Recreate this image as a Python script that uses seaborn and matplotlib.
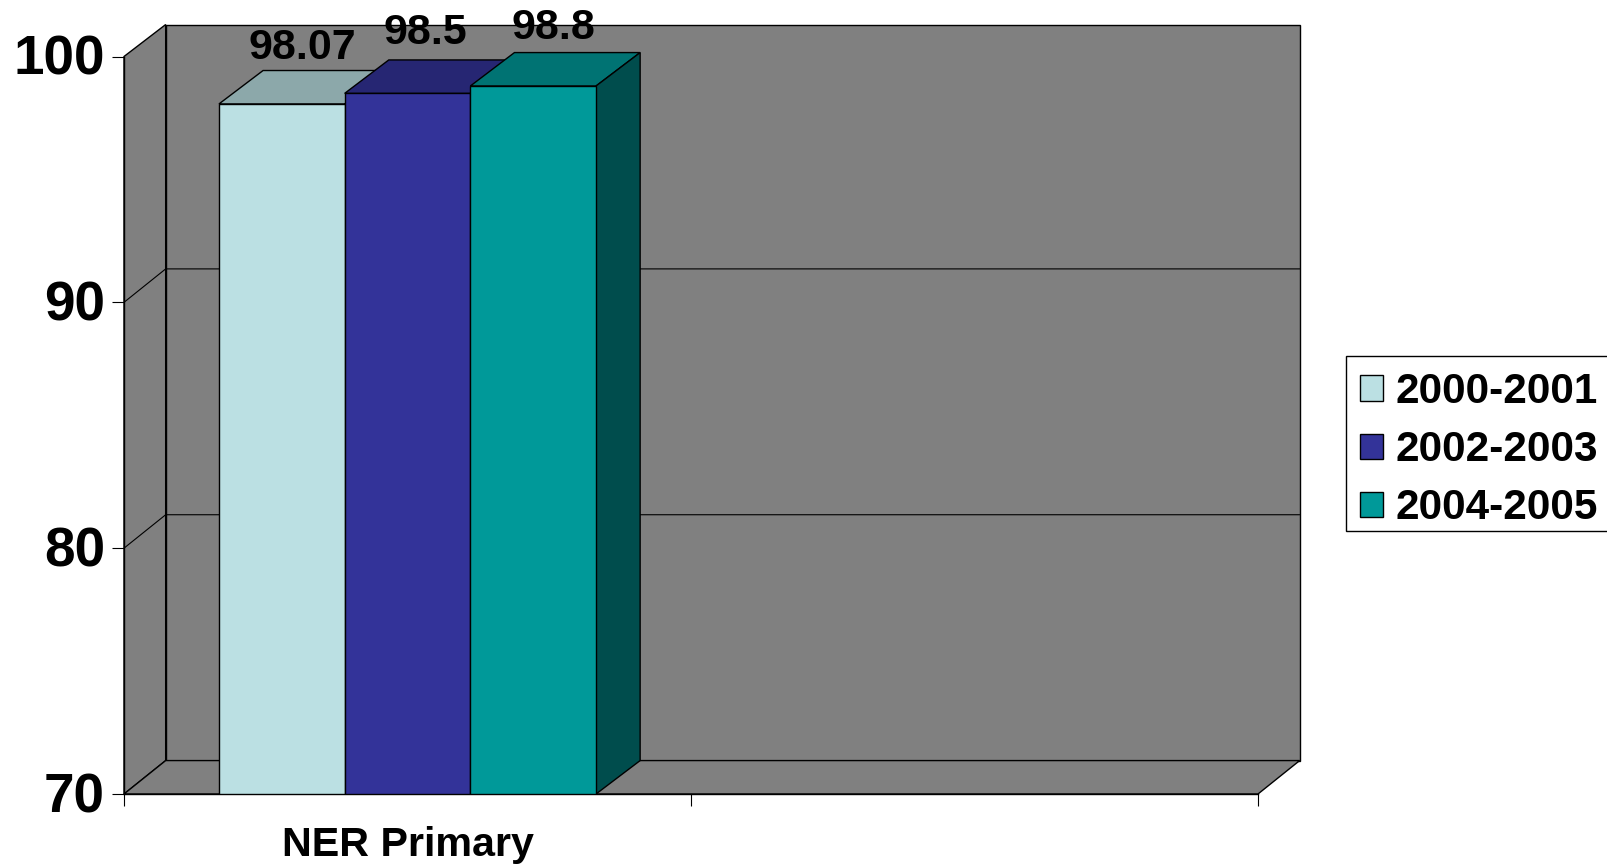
import matplotlib
matplotlib.use("Agg")
import matplotlib.pyplot as plt
import pandas as pd
import seaborn as sns
from matplotlib.patches import Polygon, Rectangle
from matplotlib.transforms import ScaledTranslation

categories = ["NER Primary", " "]
periods = ["2000-2001", "2002-2003", "2004-2005"]
values = [98.07, 98.5, 98.8]
y_ticks = [70, 80, 90, 100]

front_colors = ["#BBE0E3", "#333399", "#009999"]
top_colors = ["#8CA8AA", "#262673", "#007373"]
side_colors = ["#587072", "#1A1A4D", "#004D4D"]
wall_color = "#808080"

# Label offsets from each bar's top centre, in points
label_offsets = [(14.6, 40.5), (13.0, 43.5), (14.4, 41.5)]

# Oblique depth of the pseudo-3D box and of the bars, in data units
DEPTH_X = 0.0735
DEPTH_Y = 1.36
DEPTH_TOP = 1.30
BAR_DEPTH_X = 0.0778
Y_MIN, Y_MAX = 70, 100

sns.set_style("white")
plt.rcParams["font.family"] = ["Liberation Sans", "DejaVu Sans"]
plt.rcParams["font.weight"] = "bold"

W, H = 1607, 867
fig = plt.figure(figsize=(W / 100, H / 100), dpi=100)
ax = fig.add_axes([124 / W, 1 - 794 / H, (1258 - 124) / W, (794 - 56.5) / H])

df = pd.DataFrame({"category": categories[0], "period": periods, "value": values})
sns.barplot(
    data=df, x="category", y="value", hue="period", order=categories,
    hue_order=periods, palette=front_colors, saturation=1, width=0.665,
    edgecolor="black", linewidth=1, ax=ax,
)
bars = [p for p in ax.patches if p.get_height() > 0]
ax.set_xlim(-0.5, 1.5)
ax.set_ylim(Y_MIN, Y_MAX)
ax.patch.set_visible(False)
ax.set_xlabel("")
ax.set_ylabel("")

x0, x1 = -0.5, 1.5


def face(points, color, z):
    ax.add_patch(Polygon(points, closed=True, facecolor=color, edgecolor="black",
                         linewidth=1, zorder=z, clip_on=False, joinstyle="miter"))


# Back wall, left wall and floor of the box
face([(x0 + DEPTH_X, Y_MIN + DEPTH_Y), (x1 + DEPTH_X, Y_MIN + DEPTH_Y),
      (x1 + DEPTH_X, Y_MAX + DEPTH_TOP), (x0 + DEPTH_X, Y_MAX + DEPTH_TOP)], wall_color, 0.5)
face([(x0, Y_MIN), (x0 + DEPTH_X, Y_MIN + DEPTH_Y),
      (x0 + DEPTH_X, Y_MAX + DEPTH_TOP), (x0, Y_MAX)], wall_color, 0.6)
face([(x0, Y_MIN), (x1, Y_MIN), (x1 + DEPTH_X, Y_MIN + DEPTH_Y),
      (x0 + DEPTH_X, Y_MIN + DEPTH_Y)], wall_color, 0.6)

# Gridlines run along the left wall and across the back wall
for tick in y_ticks[1:-1]:
    ax.plot([x0, x0 + DEPTH_X, x1 + DEPTH_X],
            [tick, tick + DEPTH_Y, tick + DEPTH_Y],
            color="black", linewidth=0.8, zorder=0.7, clip_on=False)

# Top and side faces of each bar, stacked so later bars cover earlier ones
for i, (bar, value) in enumerate(zip(bars, values)):
    left, right = bar.get_x(), bar.get_x() + bar.get_width()
    base_z = 3 + 2 * i
    face([(left, value), (right, value), (right + BAR_DEPTH_X, value + DEPTH_Y),
          (left + BAR_DEPTH_X, value + DEPTH_Y)], top_colors[i], base_z)
    face([(right, Y_MIN), (right + BAR_DEPTH_X, Y_MIN + DEPTH_Y),
          (right + BAR_DEPTH_X, value + DEPTH_Y), (right, value)], side_colors[i], base_z)
    bar.set_zorder(base_z + 1)
    ax.annotate(f"{value:g}", xy=((left + right) / 2, value), xytext=label_offsets[i],
                textcoords="offset points", ha="center", va="center",
                fontsize=31, fontweight="bold", color="black", zorder=20)

for name, spine in ax.spines.items():
    spine.set_visible(name in ("left", "bottom"))
    spine.set_color("black")
    spine.set_linewidth(1)
ax.spines["left"].set_zorder(2)
ax.spines["bottom"].set_zorder(12)

ax.set_yticks(y_ticks)
ax.tick_params(axis="y", which="major", left=True, length=8.6, width=0.8, color="black",
               pad=5, labelsize=39.5)
ax.set_xticks([0], [categories[0]])
ax.set_xticks([-0.5, 0.5, 1.5], minor=True)
ax.tick_params(axis="x", which="major", length=0, pad=23, labelsize=29.7)
ax.tick_params(axis="x", which="minor", bottom=True, length=8.6, width=0.8, color="black")
for label in ax.get_yticklabels() + ax.get_xticklabels():
    label.set_fontweight("bold")
    label.set_color("black")

# Nudge the value-axis labels up a little against their ticks
nudge = ScaledTranslation(0, 2 / 100, fig.dpi_scale_trans)
for label in ax.get_yticklabels():
    label.set_transform(label.get_transform() + nudge)

# Legend box runs off the right edge of the figure
fig.add_artist(Rectangle((1346 / W, 1 - 530.5 / H), (W + 10 - 1346) / W, 174.5 / H,
                         transform=fig.transFigure, facecolor="white",
                         edgecolor="black", linewidth=1, zorder=-1))
sns.move_legend(
    ax, loc="upper left", bbox_to_anchor=(1360 / W, 1 - 372 / H),
    bbox_transform=fig.transFigure, title=None, frameon=False,
    fontsize=30.4, labelcolor="black", handlelength=0.55,
    handleheight=0.55, handletextpad=0.28, labelspacing=0.43, borderpad=0,
    borderaxespad=0,
)
legend = ax.get_legend()
legend.set_zorder(30)
for handle in legend.get_patches():
    handle.set_edgecolor("black")
    handle.set_linewidth(1)

fig.savefig("out.png", dpi=100, facecolor="white")
